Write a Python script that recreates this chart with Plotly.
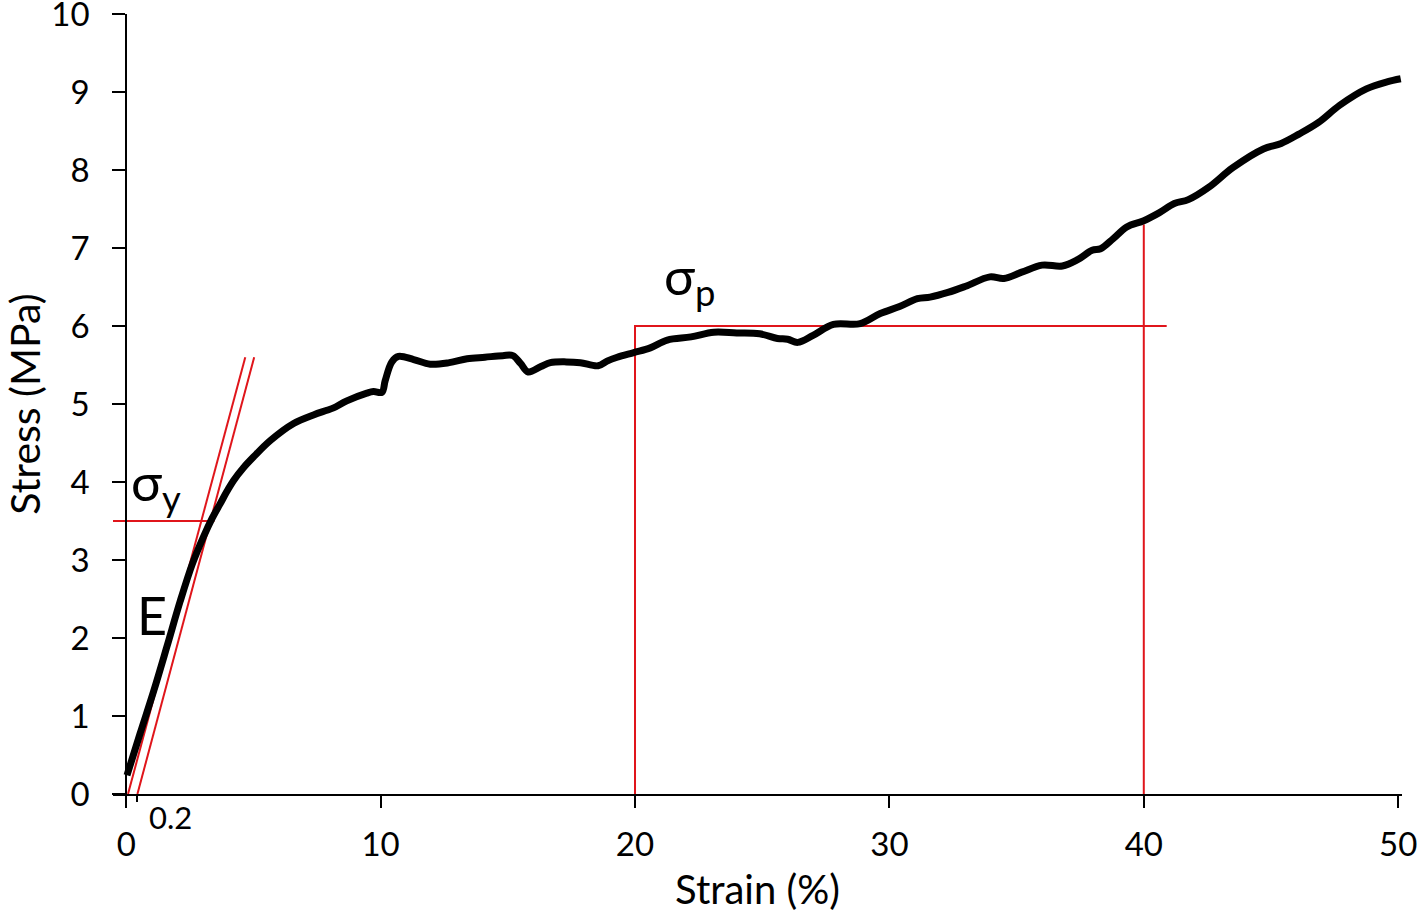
import plotly.graph_objects as go

# ---- data ----
strain = [0.03, 0.55, 1.07, 1.6, 2.12, 2.6, 3.04, 3.37, 3.69, 3.96, 4.22, 4.6, 5.0, 5.66,
          6.58, 7.36, 7.89, 8.15, 8.67, 9.46, 9.72, 10.05, 10.18, 10.44, 10.7, 11.3, 11.95,
          12.7, 13.4, 14.1, 14.8, 15.2, 15.5, 15.8, 16.3, 16.67, 17.3, 17.85, 18.55, 18.9,
          19.3, 19.95, 20.6, 21.27, 22.2, 23.1, 24.0, 24.9, 25.6, 26.0, 26.4, 27.0, 27.8,
          28.85, 29.64, 30.4, 31.1, 31.6, 32.3, 33.0, 33.95, 34.5, 35.2, 36.0, 36.8, 37.4,
          37.97, 38.3, 38.8, 39.33, 40.0, 40.6, 41.2, 41.75, 42.56, 43.5, 44.7, 45.4, 46.1,
          46.87, 47.7, 48.75, 49.56, 50.1]
stress = [0.24, 0.78, 1.31, 1.89, 2.47, 2.95, 3.3, 3.53, 3.72, 3.88, 4.02, 4.18, 4.32, 4.53,
          4.75, 4.86, 4.92, 4.95, 5.04, 5.14, 5.16, 5.15, 5.3, 5.54, 5.61, 5.57, 5.51,
          5.53, 5.58, 5.6, 5.62, 5.62, 5.52, 5.41, 5.48, 5.53, 5.54, 5.53, 5.49, 5.55,
          5.6, 5.66, 5.72, 5.82, 5.86, 5.92, 5.91, 5.9, 5.84, 5.83, 5.79, 5.88, 6.02,
          6.03, 6.16, 6.25, 6.35, 6.37, 6.43, 6.51, 6.63, 6.61, 6.69, 6.78, 6.77, 6.85,
          6.97, 6.99, 7.12, 7.27, 7.35, 7.45, 7.57, 7.62, 7.78, 8.03, 8.27, 8.34, 8.46,
          8.61, 8.83, 9.04, 9.13, 9.17]

modulus_x = [0.07, 4.68]
modulus_y = [0.0, 5.6]
offset_x = [0.44, 5.03]
offset_y = [0.0, 5.6]
yield_x = [-0.52, 3.47]
yield_y = [3.5, 3.5]
plateau_x = [20, 20, 40.9]
plateau_y = [0, 6, 6]
end_x = [40, 40]
end_y = [0, 7.3]

x_ticks = [0, 10, 20, 30, 40, 50]
y_ticks = list(range(0, 11))
offset_tick = [0.44]

RED = "#e0151b"
FONT = "Lato"
FS = 33
TFS = 40

fig = go.Figure()
for xs, ys in [(modulus_x, modulus_y), (offset_x, offset_y), (yield_x, yield_y),
               (plateau_x, plateau_y), (end_x, end_y)]:
    fig.add_trace(go.Scatter(x=xs, y=ys, mode="lines",
                             line=dict(color=RED, width=2), hoverinfo="skip"))

fig.add_trace(go.Scatter(x=strain, y=stress, mode="lines",
                         line=dict(color="black", width=7, shape="spline", smoothing=1.0)))

fig.add_annotation(x=0.12, y=3.96, text="σ<sub>y</sub>", showarrow=False,
                   xanchor="left", yanchor="middle", font=dict(size=52, family=FONT, color="black"))
fig.add_annotation(x=1.02, y=2.29, text="E", showarrow=False,
                   xanchor="center", yanchor="middle", font=dict(size=52, family=FONT, color="black"))
fig.add_annotation(x=21.05, y=6.6, text="σ<sub>p</sub>", showarrow=False,
                   xanchor="left", yanchor="middle", font=dict(size=52, family=FONT, color="black"))
fig.add_annotation(x=1.73, y=0, yshift=-2, text="0.2", showarrow=False,
                   xanchor="center", yanchor="top", font=dict(size=31, family=FONT, color="black"))

fig.update_layout(
    width=1417, height=913,
    margin=dict(l=113, r=15, t=14, b=119),
    paper_bgcolor="white", plot_bgcolor="white",
    showlegend=False,
    font=dict(family=FONT, size=FS, color="black"),
)
fig.update_xaxes(
    range=[-0.52, 50.15], tickvals=x_ticks, ticks="outside", ticklen=12, tickwidth=2,
    tickcolor="black", showline=True, linecolor="black", linewidth=2, showgrid=False,
    zeroline=False, ticklabelstandoff=8, automargin=False, ticklabeloverflow="allow",
    minor=dict(tickvals=offset_tick, ticks="outside", ticklen=6, tickwidth=2, tickcolor="black",
               showgrid=False),
    title=dict(text="Strain (%)", font=dict(size=TFS, family=FONT), standoff=17),
    tickfont=dict(size=FS, family=FONT),
)
fig.update_yaxes(
    range=[0, 10], tickvals=y_ticks, ticks="outside", ticklen=13, tickwidth=2,
    tickcolor="black", showline=True, linecolor="black", linewidth=2, showgrid=False,
    zeroline=False, anchor="free", position=0.52 / 50.67, ticklabelstandoff=16,
    automargin=False, ticklabeloverflow="allow",
    title=dict(text="Stress (MPa)", font=dict(size=41, family=FONT), standoff=25),
    tickfont=dict(size=FS, family=FONT),
)

fig.write_html("out.html", config={"displayModeBar": False},
               post_script="document.body.style.margin='0';document.body.style.overflow='hidden';")
